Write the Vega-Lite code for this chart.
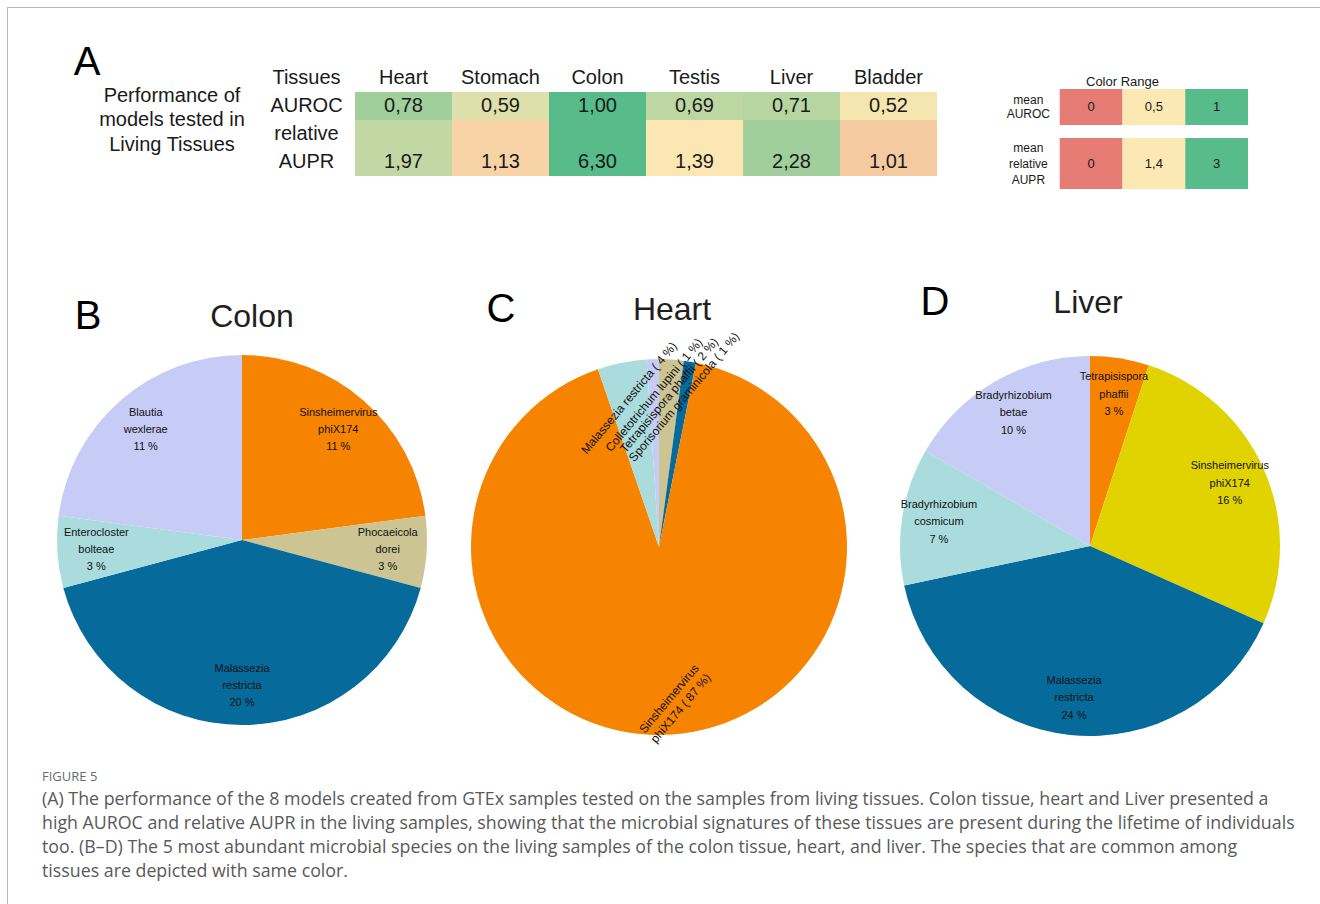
{
  "$schema": "https://vega.github.io/schema/vega-lite/v6.json",
  "padding": {"left": 7, "top": 7, "right": 0, "bottom": 0},
  "background": "#ffffff",
  "config": {
    "view": {"stroke": null},
    "font": "Liberation Sans",
    "text": {"font": "Liberation Sans", "color": "#1a1a1a"},
    "locale": {"number": {"decimal": ",", "thousands": ".", "grouping": [3], "currency": ["", " €"]}}
  },
  "datasets": {
    "perf": [
      {"tissue": "Heart", "metric": "AUROC", "value": 0.78},
      {"tissue": "Stomach", "metric": "AUROC", "value": 0.59},
      {"tissue": "Colon", "metric": "AUROC", "value": 1.0},
      {"tissue": "Testis", "metric": "AUROC", "value": 0.69},
      {"tissue": "Liver", "metric": "AUROC", "value": 0.71},
      {"tissue": "Bladder", "metric": "AUROC", "value": 0.52},
      {"tissue": "Heart", "metric": "AUPR", "value": 1.97},
      {"tissue": "Stomach", "metric": "AUPR", "value": 1.13},
      {"tissue": "Colon", "metric": "AUPR", "value": 6.3},
      {"tissue": "Testis", "metric": "AUPR", "value": 1.39},
      {"tissue": "Liver", "metric": "AUPR", "value": 2.28},
      {"tissue": "Bladder", "metric": "AUPR", "value": 1.01}
    ],
    "tissues": [
      {"name": "Tissues"}, {"name": "Heart"}, {"name": "Stomach"}, {"name": "Colon"},
      {"name": "Testis"}, {"name": "Liver"}, {"name": "Bladder"}
    ],
    "rowlabels": [{"lab": "AUROC"}, {"lab": "relative"}, {"lab": "AUPR"}],
    "rangeAUROC": [{"level": "lo", "value": 0}, {"level": "mid", "value": 0.5}, {"level": "hi", "value": 1}],
    "rangeAUPR": [{"level": "lo", "value": 0}, {"level": "mid", "value": 1.4}, {"level": "hi", "value": 3}],
    "colon": [
      {"species": "Sinsheimervirus phiX174", "value": 11, "label": "Sinsheimervirus\nphiX174\n11 %"},
      {"species": "Phocaeicola dorei", "value": 3, "label": "Phocaeicola\ndorei\n3 %"},
      {"species": "Malassezia restricta", "value": 20, "label": "Malassezia\nrestricta\n20 %"},
      {"species": "Enterocloster bolteae", "value": 3, "label": "Enterocloster\nbolteae\n3 %"},
      {"species": "Blautia wexlerae", "value": 11, "label": "Blautia\nwexlerae\n11 %"}
    ],
    "heart": [
      {"species": "Tetrapisispora phaffii", "value": 2, "label": "Tetrapisispora phaffii ( 2 %)"},
      {"species": "Sporisorium graminicola", "value": 1, "label": "Sporisorium graminicola ( 1 %)"},
      {"species": "Sinsheimervirus phiX174", "value": 87, "label": "Sinsheimervirus\nphiX174 ( 87 %)"},
      {"species": "Malassezia restricta", "value": 4, "label": "Malassezia restricta ( 4 %)"},
      {"species": "Colletotrichum lupini", "value": 1, "label": "Colletotrichum lupini ( 1 %)"}
    ],
    "liver": [
      {"species": "Tetrapisispora phaffii", "value": 3, "label": "Tetrapisispora\nphaffii\n3 %"},
      {"species": "Sinsheimervirus phiX174", "value": 16, "label": "Sinsheimervirus\nphiX174\n16 %"},
      {"species": "Malassezia restricta", "value": 24, "label": "Malassezia\nrestricta\n24 %"},
      {"species": "Bradyrhizobium cosmicum", "value": 7, "label": "Bradyrhizobium\ncosmicum\n7 %"},
      {"species": "Bradyrhizobium betae", "value": 10, "label": "Bradyrhizobium\nbetae\n10 %"}
    ]
  },
  "spacing": 0,
  "resolve": {"scale": {"color": "independent"}},
  "vconcat": [
    {"width": 1313, "height": 1, "data": {"values": []}, "mark": "point", "view": {"fill": "#b8b8b8", "stroke": null}},
    {
      "spacing": 0,
      "resolve": {"scale": {"color": "independent"}},
      "hconcat": [
        {"width": 1, "height": 896, "data": {"values": []}, "mark": "point", "view": {"fill": "#b8b8b8", "stroke": null}},
        {
          "spacing": 0,
          "resolve": {"scale": {"color": "independent"}},
          "vconcat": [
            {
              "spacing": 0,
              "resolve": {"scale": {"color": "independent"}},
              "hconcat": [
                {
                  "spacing": 0,
                  "vconcat": [
                    {"width": 1, "height": 35, "data": {"values": []}, "mark": "point"},
                    {"spacing": 0, "hconcat": [
                      {"width": 59, "height": 40, "data": {"values": []}, "mark": "point"},
                      {"width": 40, "height": 40, "data": {"values": [{"t": "A"}]}, "mark": {"type": "text", "fontSize": 40, "color": "#000000"}, "encoding": {"text": {"field": "t"}}}
                    ]},
                    {"spacing": 0, "hconcat": [
                      {"width": 78, "height": 70, "data": {"values": []}, "mark": "point"},
                      {"width": 172, "height": 70, "data": {"values": [{"t": "Performance of\nmodels tested in\nLiving Tissues"}]}, "mark": {"type": "text", "fontSize": 20, "lineBreak": "\n", "lineHeight": 24.5, "dy": -22.5}, "encoding": {"text": {"field": "t"}}}
                    ]}
                  ]
                },
                {
                  "spacing": 0,
                  "resolve": {"scale": {"color": "independent"}},
                  "vconcat": [
                    {"width": 1, "height": 56, "data": {"values": []}, "mark": "point"},
                    {
                      "width": 679,
                      "height": 112,
                      "resolve": {"scale": {"color": "independent"}},
                      "layer": [
                        {
                          "data": {"name": "perf"},
                          "transform": [{"filter": "datum.metric === 'AUROC'"}],
                          "mark": {"type": "rect"},
                          "encoding": {
                            "x": {"field": "tissue", "type": "nominal", "scale": {"domain": ["Tissues", "Heart", "Stomach", "Colon", "Testis", "Liver", "Bladder"], "paddingInner": 0, "paddingOuter": 0}, "axis": null},
                            "y": {"field": "metric", "type": "nominal", "scale": {"domain": ["header", "AUROC", "relative", "AUPR"], "paddingInner": 0, "paddingOuter": 0}, "axis": null},
                            "color": {"field": "value", "type": "quantitative", "scale": {"domain": [0, 0.5, 1], "range": ["#E67C73", "#FCE8B2", "#57BB8A"], "interpolate": "rgb", "clamp": true}, "legend": null}
                          }
                        },
                        {
                          "data": {"name": "perf"},
                          "transform": [{"filter": "datum.metric === 'AUPR'"}],
                          "mark": {"type": "rect"},
                          "encoding": {
                            "x": {"field": "tissue", "type": "nominal", "scale": {"domain": ["Tissues", "Heart", "Stomach", "Colon", "Testis", "Liver", "Bladder"], "paddingInner": 0, "paddingOuter": 0}, "axis": null},
                            "y": {"field": "metric", "type": "nominal", "scale": {"domain": ["header", "AUROC", "relative", "AUPR"], "paddingInner": 0, "paddingOuter": 0}, "axis": null},
                            "color": {"field": "value", "type": "quantitative", "scale": {"domain": [0, 1.4, 3], "range": ["#E67C73", "#FCE8B2", "#57BB8A"], "interpolate": "rgb", "clamp": true}, "legend": null}
                          }
                        },
                        {
                          "data": {"name": "perf"},
                          "transform": [{"filter": "datum.metric === 'AUPR'"}],
                          "mark": {"type": "rect"},
                          "encoding": {
                            "x": {"field": "tissue", "type": "nominal", "scale": {"domain": ["Tissues", "Heart", "Stomach", "Colon", "Testis", "Liver", "Bladder"], "paddingInner": 0, "paddingOuter": 0}, "axis": null},
                            "y": {"datum": "relative", "type": "nominal", "scale": {"domain": ["header", "AUROC", "relative", "AUPR"], "paddingInner": 0, "paddingOuter": 0}, "axis": null},
                            "color": {"field": "value", "type": "quantitative", "scale": {"domain": [0, 1.4, 3], "range": ["#E67C73", "#FCE8B2", "#57BB8A"], "interpolate": "rgb", "clamp": true}, "legend": null}
                          }
                        },
                        {
                          "data": {"name": "perf"},
                          "mark": {"type": "text", "fontSize": 20},
                          "encoding": {
                            "x": {"field": "tissue", "type": "nominal", "scale": {"domain": ["Tissues", "Heart", "Stomach", "Colon", "Testis", "Liver", "Bladder"], "paddingInner": 0, "paddingOuter": 0}, "axis": null},
                            "y": {"field": "metric", "type": "nominal", "scale": {"domain": ["header", "AUROC", "relative", "AUPR"], "paddingInner": 0, "paddingOuter": 0}, "axis": null},
                            "text": {"field": "value", "type": "quantitative", "format": ".2f"}
                          }
                        },
                        {
                          "data": {"name": "tissues"},
                          "mark": {"type": "text", "fontSize": 20},
                          "encoding": {
                            "x": {"field": "name", "type": "nominal", "scale": {"domain": ["Tissues", "Heart", "Stomach", "Colon", "Testis", "Liver", "Bladder"], "paddingInner": 0, "paddingOuter": 0}, "axis": null},
                            "y": {"datum": "header", "type": "nominal", "scale": {"domain": ["header", "AUROC", "relative", "AUPR"], "paddingInner": 0, "paddingOuter": 0}, "axis": null},
                            "text": {"field": "name"}
                          }
                        },
                        {
                          "data": {"name": "rowlabels"},
                          "mark": {"type": "text", "fontSize": 20},
                          "encoding": {
                            "x": {"datum": "Tissues", "type": "nominal", "scale": {"domain": ["Tissues", "Heart", "Stomach", "Colon", "Testis", "Liver", "Bladder"], "paddingInner": 0, "paddingOuter": 0}, "axis": null},
                            "y": {"field": "lab", "type": "nominal", "scale": {"domain": ["header", "AUROC", "relative", "AUPR"], "paddingInner": 0, "paddingOuter": 0}, "axis": null},
                            "text": {"field": "lab"}
                          }
                        }
                      ]
                    }
                  ]
                },
                {"width": 60, "height": 1, "data": {"values": []}, "mark": "point"},
                {
                  "spacing": 0,
                  "resolve": {"scale": {"color": "independent"}},
                  "vconcat": [
                    {"width": 1, "height": 66, "data": {"values": []}, "mark": "point"},
                    {"width": 251, "height": 15, "data": {"values": [{"t": "Color Range"}]}, "mark": {"type": "text", "fontSize": 13}, "encoding": {"text": {"field": "t"}}},
                    {
                      "width": 251,
                      "height": 36,
                      "data": {"name": "rangeAUROC"},
                      "layer": [
                        {"mark": {"type": "rect"}, "encoding": {
                          "x": {"field": "level", "type": "nominal", "scale": {"domain": ["label", "lo", "mid", "hi"], "paddingInner": 0, "paddingOuter": 0}, "axis": null},
                          "color": {"field": "value", "type": "quantitative", "scale": {"domain": [0, 0.5, 1], "range": ["#E67C73", "#FCE8B2", "#57BB8A"], "interpolate": "rgb", "clamp": true}, "legend": null}
                        }},
                        {"mark": {"type": "text", "fontSize": 13}, "encoding": {
                          "x": {"field": "level", "type": "nominal", "scale": {"domain": ["label", "lo", "mid", "hi"], "paddingInner": 0, "paddingOuter": 0}, "axis": null},
                          "text": {"field": "value", "type": "quantitative", "format": "~g"}
                        }},
                        {"data": {"values": [{"lab": "mean\nAUROC"}]}, "mark": {"type": "text", "fontSize": 12, "lineBreak": "\n", "lineHeight": 14, "dy": -7}, "encoding": {
                          "x": {"datum": "label", "type": "nominal", "scale": {"domain": ["label", "lo", "mid", "hi"], "paddingInner": 0, "paddingOuter": 0}, "axis": null},
                          "text": {"field": "lab"}
                        }}
                      ]
                    },
                    {"width": 1, "height": 13, "data": {"values": []}, "mark": "point"},
                    {
                      "width": 251,
                      "height": 51,
                      "data": {"name": "rangeAUPR"},
                      "layer": [
                        {"mark": {"type": "rect"}, "encoding": {
                          "x": {"field": "level", "type": "nominal", "scale": {"domain": ["label", "lo", "mid", "hi"], "paddingInner": 0, "paddingOuter": 0}, "axis": null},
                          "color": {"field": "value", "type": "quantitative", "scale": {"domain": [0, 1.4, 3], "range": ["#E67C73", "#FCE8B2", "#57BB8A"], "interpolate": "rgb", "clamp": true}, "legend": null}
                        }},
                        {"mark": {"type": "text", "fontSize": 13}, "encoding": {
                          "x": {"field": "level", "type": "nominal", "scale": {"domain": ["label", "lo", "mid", "hi"], "paddingInner": 0, "paddingOuter": 0}, "axis": null},
                          "text": {"field": "value", "type": "quantitative", "format": "~g"}
                        }},
                        {"data": {"values": [{"lab": "mean\nrelative\nAUPR"}]}, "mark": {"type": "text", "fontSize": 12, "lineBreak": "\n", "lineHeight": 16, "dy": -16}, "encoding": {
                          "x": {"datum": "label", "type": "nominal", "scale": {"domain": ["label", "lo", "mid", "hi"], "paddingInner": 0, "paddingOuter": 0}, "axis": null},
                          "text": {"field": "lab"}
                        }}
                      ]
                    }
                  ]
                }
              ]
            },
            {
              "spacing": 0,
              "resolve": {"scale": {"color": "independent"}},
              "hconcat": [
                {"width": 44, "height": 1, "data": {"values": []}, "mark": "point"},
                {
                  "spacing": 0,
                  "resolve": {"scale": {"color": "independent"}},
                  "vconcat": [
                    {"width": 1, "height": 108, "data": {"values": []}, "mark": "point"},
                    {"spacing": 0, "hconcat": [
                      {"width": 16, "height": 40, "data": {"values": []}, "mark": "point"},
                      {"width": 40, "height": 40, "data": {"values": [{"t": "B"}]}, "mark": {"type": "text", "fontSize": 40, "color": "#000000"}, "encoding": {"text": {"field": "t"}}},
                      {"width": 84, "height": 40, "data": {"values": []}, "mark": "point"},
                      {"width": 120, "height": 40, "data": {"values": [{"t": "Colon"}]}, "mark": {"type": "text", "fontSize": 32, "color": "#1f1f1f"}, "encoding": {"text": {"field": "t"}}}
                    ]},
                    {
                      "width": 380,
                      "height": 406,
                      "data": {"name": "colon"},
                      "transform": [{"window": [{"op": "row_number", "as": "i"}]}],
                      "encoding": {
                        "theta": {"field": "value", "type": "quantitative", "stack": true},
                        "order": {"field": "i", "type": "quantitative"}
                      },
                      "layer": [
                        {"mark": {"type": "arc", "radius": 185}, "encoding": {"color": {"field": "species", "type": "nominal", "legend": null, "scale": {
                          "domain": ["Sinsheimervirus phiX174", "Phocaeicola dorei", "Malassezia restricta", "Enterocloster bolteae", "Blautia wexlerae"],
                          "range": ["#F78400", "#CCC493", "#066A9B", "#AADCDD", "#C6CCF5"]}}}},
                        {"mark": {"type": "text", "radius": 146, "fontSize": 11, "lineBreak": "\n", "lineHeight": 17, "dy": -17, "color": "#111111"}, "encoding": {"text": {"field": "label"}}}
                      ]
                    }
                  ]
                },
                {"width": 34, "height": 1, "data": {"values": []}, "mark": "point"},
                {
                  "spacing": 0,
                  "resolve": {"scale": {"color": "independent"}},
                  "vconcat": [
                    {"width": 1, "height": 101, "data": {"values": []}, "mark": "point"},
                    {"spacing": 0, "hconcat": [
                      {"width": 15, "height": 40, "data": {"values": []}, "mark": "point"},
                      {"width": 40, "height": 40, "data": {"values": [{"t": "C"}]}, "mark": {"type": "text", "fontSize": 40, "color": "#000000"}, "encoding": {"text": {"field": "t"}}},
                      {"width": 91, "height": 40, "data": {"values": []}, "mark": "point"},
                      {"width": 120, "height": 40, "data": {"values": [{"t": "Heart"}]}, "mark": {"type": "text", "fontSize": 32, "color": "#1f1f1f"}, "encoding": {"text": {"field": "t"}}}
                    ]},
                    {
                      "width": 386,
                      "height": 428,
                      "data": {"name": "heart"},
                      "transform": [{"window": [{"op": "row_number", "as": "i"}]}],
                      "encoding": {
                        "theta": {"field": "value", "type": "quantitative", "stack": true},
                        "order": {"field": "i", "type": "quantitative"}
                      },
                      "layer": [
                        {"mark": {"type": "arc", "radius": 188}, "encoding": {"color": {"field": "species", "type": "nominal", "legend": null, "scale": {
                          "domain": ["Tetrapisispora phaffii", "Sporisorium graminicola", "Sinsheimervirus phiX174", "Malassezia restricta", "Colletotrichum lupini"],
                          "range": ["#CCC493", "#066A9B", "#F78400", "#AADCDD", "#C6CCF5"]}}}},
                        {"mark": {"type": "text", "radius": 152, "angle": -50, "fontSize": 12, "lineBreak": "\n", "lineHeight": 15, "color": "#111111"}, "encoding": {"text": {"field": "label"}}}
                      ]
                    }
                  ]
                },
                {"width": 43, "height": 1, "data": {"values": []}, "mark": "point"},
                {
                  "spacing": 0,
                  "resolve": {"scale": {"color": "independent"}},
                  "vconcat": [
                    {"width": 1, "height": 94, "data": {"values": []}, "mark": "point"},
                    {"spacing": 0, "hconcat": [
                      {"width": 20, "height": 40, "data": {"values": []}, "mark": "point"},
                      {"width": 40, "height": 40, "data": {"values": [{"t": "D"}]}, "mark": {"type": "text", "fontSize": 40, "color": "#000000"}, "encoding": {"text": {"field": "t"}}},
                      {"width": 73, "height": 40, "data": {"values": []}, "mark": "point"},
                      {"width": 120, "height": 40, "data": {"values": [{"t": "Liver"}]}, "mark": {"type": "text", "fontSize": 32, "color": "#1f1f1f"}, "encoding": {"text": {"field": "t"}}}
                    ]},
                    {
                      "width": 390,
                      "height": 446,
                      "data": {"name": "liver"},
                      "transform": [{"window": [{"op": "row_number", "as": "i"}]}],
                      "encoding": {
                        "theta": {"field": "value", "type": "quantitative", "stack": true},
                        "order": {"field": "i", "type": "quantitative"}
                      },
                      "layer": [
                        {"mark": {"type": "arc", "radius": 190}, "encoding": {"color": {"field": "species", "type": "nominal", "legend": null, "scale": {
                          "domain": ["Tetrapisispora phaffii", "Sinsheimervirus phiX174", "Malassezia restricta", "Bradyrhizobium cosmicum", "Bradyrhizobium betae"],
                          "range": ["#F78400", "#E0D300", "#066A9B", "#AADCDD", "#C6CCF5"]}}}},
                        {"mark": {"type": "text", "radius": 153, "fontSize": 11, "lineBreak": "\n", "lineHeight": 17.5, "dy": -17.5, "color": "#111111"}, "encoding": {"text": {"field": "label"}}}
                      ]
                    }
                  ]
                }
              ]
            },
            {
              "spacing": 0,
              "hconcat": [
                {"width": 34, "height": 1, "data": {"values": []}, "mark": "point"},
                {
                  "width": 1240,
                  "height": 1,
                  "data": {"values": []},
                  "mark": "point",
                  "title": {
                    "text": "FIGURE 5",
                    "subtitle": [
                      "(A) The performance of the 8 models created from GTEx samples tested on the samples from living tissues. Colon tissue, heart and Liver presented a",
                      "high AUROC and relative AUPR in the living samples, showing that the microbial signatures of these tissues are present during the lifetime of individuals",
                      "too. (B–D) The 5 most abundant microbial species on the living samples of the colon tissue, heart, and liver. The species that are common among",
                      "tissues are depicted with same color."
                    ],
                    "orient": "bottom",
                    "anchor": "start",
                    "frame": "group",
                    "offset": 1,
                    "font": "Open Sans",
                    "fontSize": 13,
                    "fontWeight": "normal",
                    "color": "#6a6a6a",
                    "subtitleFont": "Open Sans",
                    "subtitleFontSize": 17.8,
                    "subtitleColor": "#595959",
                    "subtitleLineHeight": 24,
                    "subtitlePadding": 7
                  }
                }
              ]
            }
          ]
        }
      ]
    }
  ]
}
